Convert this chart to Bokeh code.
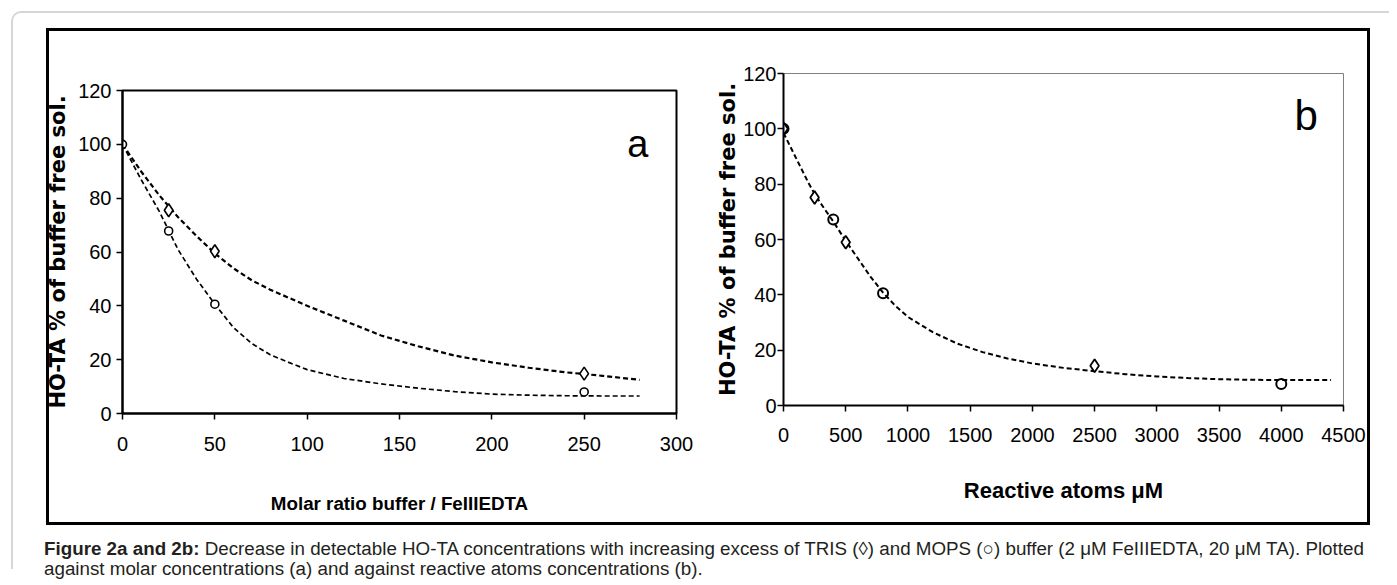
from bokeh.plotting import figure
from bokeh.layouts import row, column
from bokeh.models import Div, Label, FixedTicker, Range1d
from bokeh.embed import file_html
from bokeh.resources import INLINE

# ---------------- data: panel a (molar ratio) ----------------
a_xticks = [0, 50, 100, 150, 200, 250, 300]
a_yticks = [0, 20, 40, 60, 80, 100, 120]
a_tris_x = [25, 50, 250]
a_tris_y = [75.5, 60.3, 14.8]
a_mops_x = [0, 25, 50, 250]
a_mops_y = [100, 67.8, 40.6, 8.0]
a_tris_fit_x = [0, 10, 20, 30, 40, 50, 60, 70, 80, 90, 100, 120, 140, 160, 180, 200, 220, 240, 260, 280]
a_tris_fit_y = [100, 90, 81, 73, 66, 59.5, 54, 49.5, 46, 43, 40, 34.5, 29, 25, 21.5, 19, 17, 15.3, 14, 12.5]
a_mops_fit_x = [0, 10, 20, 25, 30, 40, 50, 60, 70, 80, 90, 100, 120, 140, 160, 180, 200, 220, 240, 260, 280]
a_mops_fit_y = [100, 87, 75, 68, 61, 50, 40.6, 32, 26, 21.8, 19, 16.3, 13, 11, 9.4, 8.1, 7.2, 6.8, 6.6, 6.5, 6.5]

# ---------------- data: panel b (reactive atoms) ----------------
b_xticks = [0, 500, 1000, 1500, 2000, 2500, 3000, 3500, 4000, 4500]
b_yticks = [0, 20, 40, 60, 80, 100, 120]
b_tris_x = [0, 250, 500, 2500]
b_tris_y = [100, 75.2, 59.0, 14.4]
b_mops_x = [0, 400, 800, 4000]
b_mops_y = [100, 67.2, 40.6, 7.8]
b_fit_x = [0, 100, 200, 250, 300, 400, 500, 600, 700, 800, 900, 1000, 1200, 1400, 1600, 1800,
           2000, 2250, 2500, 2750, 3000, 3250, 3500, 3750, 4000, 4250, 4400]
b_fit_y = [98.5, 89.5, 80.5, 76.5, 73, 66.5, 59.5, 53, 46.5, 40.8, 36, 32, 26.5, 22.3, 19.3, 17,
           15.2, 13.6, 12.4, 11.3, 10.5, 9.9, 9.5, 9.3, 9.2, 9.2, 9.2]

Y_TITLE = "HO-TA % of buffer free sol."
A_X_TITLE = "Molar ratio buffer / FeIIIEDTA"
B_X_TITLE = "Reactive atoms \u03bcM"
CAPTION = ("<b>Figure 2a and 2b:</b> Decrease in detectable HO-TA concentrations with increasing "
           "excess of TRIS (\u25ca) and MOPS (\u25cb) buffer (2 \u03bcM FeIIIEDTA, 20 \u03bcM TA). Plotted<br>"
           "against molar concentrations (a) and against reactive atoms concentrations (b).")

SANS = "Liberation Sans"


def style(p, xticks, yticks, tick_size, xlab_standoff, ylab_standoff, xt_standoff, yt_standoff, xtitle_size):
    p.xgrid.visible = False
    p.ygrid.visible = False
    p.background_fill_color = "white"
    for ax in (p.xaxis[0], p.yaxis[0]):
        ax.axis_line_color = "black"
        ax.axis_line_width = 2
        ax.major_tick_line_color = "black"
        ax.major_tick_line_width = 1.5
        ax.major_tick_in = 0
        ax.major_tick_out = 6
        ax.minor_tick_line_color = None
        ax.major_label_text_font = SANS
        ax.major_label_text_font_size = tick_size
        ax.major_label_text_color = "black"
        ax.axis_label_text_color = "black"
        ax.axis_label_text_font_style = "bold"
    p.xaxis[0].ticker = FixedTicker(ticks=xticks)
    p.yaxis[0].ticker = FixedTicker(ticks=yticks)
    p.xaxis[0].major_label_standoff = xt_standoff
    p.yaxis[0].major_label_standoff = yt_standoff
    p.xaxis[0].axis_label_standoff = xlab_standoff
    p.yaxis[0].axis_label_standoff = ylab_standoff
    p.xaxis[0].axis_label_text_font = SANS
    p.xaxis[0].axis_label_text_font_size = xtitle_size
    p.yaxis[0].axis_label_text_font = "DejaVu Sans"
    p.yaxis[0].axis_label_text_font_size = "21px"


# ---------------- panel a ----------------
fa = figure(width=661, height=491, x_range=Range1d(0, 300), y_range=Range1d(0, 120),
            toolbar_location=None, output_backend="svg",
            x_axis_label=A_X_TITLE, y_axis_label=Y_TITLE,
            min_border_left=83, min_border_right=24, min_border_top=59, min_border_bottom=109)
style(fa, a_xticks, a_yticks, "20px", 39, 5, 17, 5, "18.8px")
fa.border_fill_alpha = 0
fa.outline_line_color = "black"
fa.outline_line_width = 2
fa.line(a_tris_fit_x, a_tris_fit_y, line_color="black", line_width=2.2, line_dash="5 3")
fa.line(a_mops_fit_x, a_mops_fit_y, line_color="black", line_width=1.7, line_dash="5 3")
fa.scatter(a_tris_x, a_tris_y, marker="diamond", size=13, fill_color="white",
           line_color="black", line_width=1.6)
fa.scatter(a_mops_x, a_mops_y, marker="circle", size=8, fill_color="white",
           line_color="black", line_width=1.6)
fa.add_layout(Label(x=279, y=100, text="a", text_font=SANS, text_font_size="38px",
                    text_align="center", text_baseline="middle", text_color="black"))

# ---------------- panel b ----------------
fb = figure(width=667, height=491, x_range=Range1d(0, 4500), y_range=Range1d(0, 120),
            toolbar_location=None, output_backend="svg",
            x_axis_label=B_X_TITLE, y_axis_label=Y_TITLE,
            min_border_left=83, min_border_right=24, min_border_top=42, min_border_bottom=117)
style(fb, b_xticks, b_yticks, "20px", 33, 0, 16, 1, "22px")
fb.border_fill_color = "white"
fb.outline_line_color = "#808080"
fb.outline_line_width = 1
fb.line(b_fit_x, b_fit_y, line_color="black", line_width=2, line_dash="5 3")
fb.scatter(b_tris_x, b_tris_y, marker="diamond", size=13, fill_color="white",
           line_color="black", line_width=1.8)
fb.scatter(b_mops_x, b_mops_y, marker="circle", size=10, fill_color=None,
           line_color="black", line_width=2)
fb.add_layout(Label(x=4200, y=105, text="b", text_font=SANS, text_font_size="42px",
                    text_align="center", text_baseline="middle", text_color="black"))

frame = row(column(fa, margin=(0, 0, 0, -10)), column(fb),
            margin=(15, 0, 0, 33), styles={"border": "3px solid black"})

caption = Div(text=CAPTION, width=1345, height=30, margin=(14, 0, 0, 31),
              styles={"font-family": "Liberation Sans", "font-size": "18.8px",
                      "line-height": "19.5px", "color": "#231f20", "overflow": "visible"})

outer = column(frame, caption, margin=(11, 0, 0, 11),
               styles={"border-top": "2px solid #d6d6d6", "border-left": "2px solid #d6d6d6",
                       "border-top-left-radius": "10px"})

open("out.html", "w").write(file_html(outer, INLINE))
